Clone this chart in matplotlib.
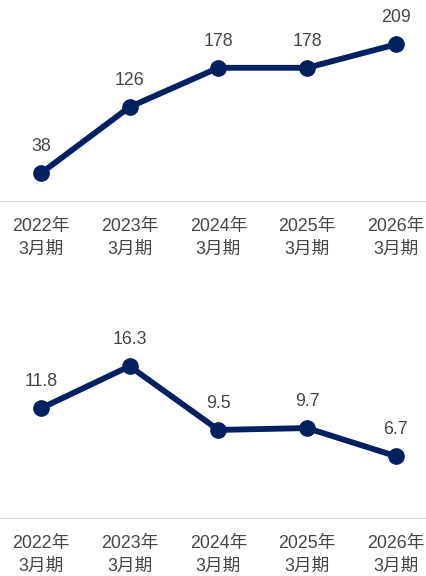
import matplotlib
matplotlib.use("Agg")
import matplotlib.pyplot as plt

plt.rcParams['font.family'] = ['Liberation Sans', 'Noto Sans CJK JP']

periods = ["2022年\n3月期", "2023年\n3月期", "2024年\n3月期", "2025年\n3月期", "2026年\n3月期"]
top_values = [38, 126, 178, 178, 209]
top_labels = ["38", "126", "178", "178", "209"]
bottom_values = [11.8, 16.3, 9.5, 9.7, 6.7]
bottom_labels = ["11.8", "16.3", "9.5", "9.7", "6.7"]

LINE = "#002060"
TEXT = "#464646"
GRID = "#d9d9d9"
W, H = 427, 576

fig = plt.figure(figsize=(W / 100, H / 100), dpi=100)


def panel(rect, values, labels, ylim):
    ax = fig.add_axes(rect)
    x = list(range(len(values)))
    ax.plot(x, values, color=LINE, lw=4.2, marker="o", ms=11,
            solid_capstyle="round", zorder=3, clip_on=False)
    for xi, v, t in zip(x, values, labels):
        ax.annotate(t, (xi, v), xytext=(0, 16), textcoords="offset points",
                    ha="center", va="baseline", fontsize=12.8, color=TEXT)
    ax.set_xlim(-0.46, 4.35)
    ax.set_ylim(*ylim)
    ax.axhline(0, color=GRID, lw=1.8, zorder=1)
    for s in ax.spines.values():
        s.set_visible(False)
    ax.set_yticks([])
    ax.set_xticks(x)
    ax.set_xticklabels(periods, fontsize=12.8, color=TEXT, linespacing=1.45)
    ax.tick_params(axis="x", length=0, pad=11.5)
    ax.patch.set_alpha(0)
    return ax


panel([0, 1 - 202 / H, 1, 202 / H], top_values, top_labels, (0, 202 / 0.754))
panel([0, 1 - 519 / H, 1, 199 / H], bottom_values, bottom_labels, (0, 199 / 9.375))

fig.savefig("out.png", dpi=100)
